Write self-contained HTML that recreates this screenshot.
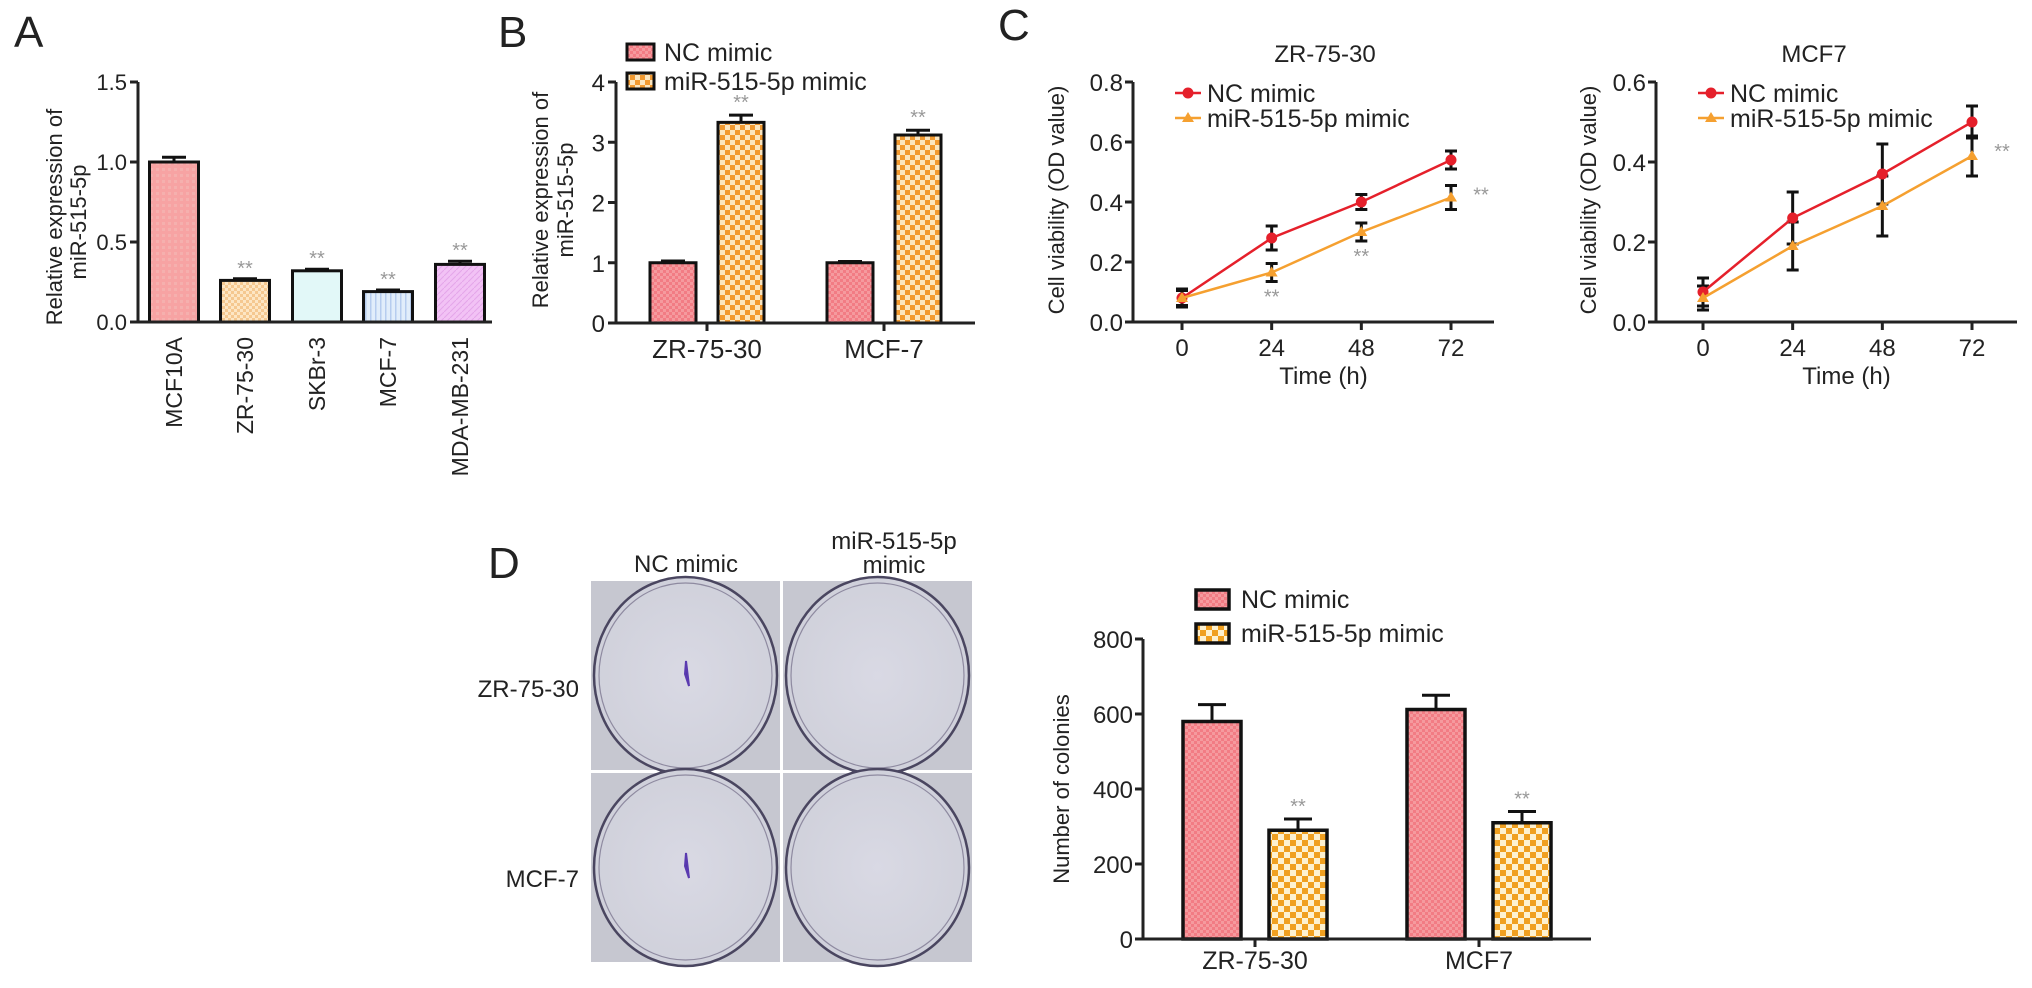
<!DOCTYPE html>
<html><head><meta charset="utf-8">
<style>
html,body{margin:0;padding:0;background:#fff;}
svg{display:block;}
text{font-family:"Liberation Sans",sans-serif;fill:#222;}
.n{font-family:"Liberation Sans Narrow","Liberation Sans",sans-serif;}
</style></head>
<body>
<svg id="fig" width="2032" height="988" viewBox="0 0 2032 988" xmlns="http://www.w3.org/2000/svg">
<defs>
<pattern id="pA0" width="6" height="6" patternUnits="userSpaceOnUse"><rect width="6" height="6" fill="#f7a3a3"/><rect width="3" height="3" fill="#f5b0ae"/></pattern>
<pattern id="pA1" width="6" height="6" patternUnits="userSpaceOnUse"><rect width="6" height="6" fill="#fde6c4"/><rect width="3" height="3" fill="#f5c890"/><rect x="3" y="3" width="3" height="3" fill="#f5c890"/></pattern>
<pattern id="pA2" width="6" height="6" patternUnits="userSpaceOnUse"><rect width="6" height="6" fill="#e2f8f8"/></pattern>
<pattern id="pA3" width="5" height="5" patternUnits="userSpaceOnUse"><rect width="5" height="5" fill="#e2eefb"/><rect width="1.5" height="5" fill="#b7cdef"/></pattern>
<pattern id="pA4" width="6" height="6" patternUnits="userSpaceOnUse"><rect width="6" height="6" fill="#f2c2f5"/><path d="M0 6L6 0" stroke="#e4a6ea" stroke-width="1"/></pattern>
<pattern id="pNC" width="6" height="6" patternUnits="userSpaceOnUse"><rect width="6" height="6" fill="#f27c84"/><rect width="3" height="3" fill="#f59a9e"/><rect x="3" y="3" width="3" height="3" fill="#f59a9e"/></pattern>
<pattern id="pMI" width="10" height="10" patternUnits="userSpaceOnUse"><rect width="10" height="10" fill="#f29a30"/><rect width="5" height="5" fill="#fbe6c0"/><rect x="5" y="5" width="5" height="5" fill="#fbe6c0"/></pattern>
<pattern id="pMD" width="12" height="12" patternUnits="userSpaceOnUse"><rect width="12" height="12" fill="#f0a020"/><rect width="6" height="6" fill="#fdf1d0"/><rect x="6" y="6" width="6" height="6" fill="#fdf1d0"/></pattern>
<radialGradient id="plate" cx="50%" cy="50%" r="55%"><stop offset="0" stop-color="#d9d9e4"/><stop offset="1" stop-color="#cfd0da"/></radialGradient>
</defs>
<g id="root"></g>
</svg>
<script>
// ---------- data ----------
const aCats = ["MCF10A","ZR-75-30","SKBr-3","MCF-7","MDA-MB-231"];
const aVals = [1.0, 0.26, 0.32, 0.19, 0.36];
const aErr = [0.03, 0.01, 0.01, 0.01, 0.02];
const aSig = [false, true, true, true, true];
const aTicks = ["0.0","0.5","1.0","1.5"];

const bCats = ["ZR-75-30","MCF-7"];
const bNC = [1.0, 1.0];
const bNCerr = [0.03, 0.02];
const bMi = [3.33, 3.12];
const bMierr = [0.12, 0.08];
const bTicks = ["0","1","2","3","4"];

const cTimes = [0, 24, 48, 72];
const cTimeTicks = ["0","24","48","72"];
const c1NC = [0.08, 0.28, 0.40, 0.54];
const c1NCerr = [0.025, 0.04, 0.025, 0.03];
const c1Mi = [0.08, 0.165, 0.30, 0.415];
const c1Mierr = [0.03, 0.03, 0.03, 0.04];
const c1Ticks = ["0.0","0.2","0.4","0.6","0.8"];
const c2NC = [0.075, 0.26, 0.37, 0.50];
const c2NCerr = [0.035, 0.065, 0.075, 0.04];
const c2Mi = [0.06, 0.19, 0.29, 0.415];
const c2Mierr = [0.03, 0.06, 0.075, 0.05];
const c2Ticks = ["0.0","0.2","0.4","0.6"];

const dCats = ["ZR-75-30","MCF7"];
const dNC = [580, 612];
const dNCerr = [45, 38];
const dMi = [290, 310];
const dMierr = [30, 30];
const dTicks = ["0","200","400","600","800"];

// ---------- helpers ----------
const NS="http://www.w3.org/2000/svg";
const root=document.getElementById('root');
function el(tag,attrs,parent){const e=document.createElementNS(NS,tag);for(const k in attrs)e.setAttribute(k,attrs[k]);(parent||root).appendChild(e);return e;}
function txt(s,attrs,parent){const e=el('text',attrs,parent);e.textContent=s;return e;}
function lin(x1,y1,x2,y2,w,c,parent){return el('line',{x1,y1,x2,y2,stroke:c||'#222','stroke-width':w||3},parent);}
function errBar(g,x,y0,y1,cap){lin(x,y0,x,y1,3,'#111',g);lin(x-cap,y1,x+cap,y1,3,'#111',g);}
function scale(d0,d1,r0,r1){return v=>r0+(v-d0)/(d1-d0)*(r1-r0);}

// ---------- panel letters ----------
[["A",14,47],["B",498,47],["C",998,40],["D",488,578]].forEach(p=>{
  const t=txt(p[0],{x:p[1],y:p[2],'font-size':44});
  
  
});

// ---------- Panel A ----------
(function(){
  const g=el('g',{});
  
  
  const ax=138, y=scale(0,1.5,322,82);
  const xs=[174,245,317,388,460], bw=49;
  aTicks.forEach((t,i)=>{const v=i*0.5;lin(ax-8,y(v),ax,y(v),3,'#222',g);
    const tt=txt(t,{x:ax-11,y:y(v)+8,'font-size':22,'text-anchor':'end'},g);
    });
  aCats.forEach((c,i)=>{
    const x=xs[i];
    errBar(g,x,y(aVals[i]),y(aVals[i]+aErr[i]),12);
    const r=el('rect',{x:x-bw/2,y:y(aVals[i]),width:bw,height:y(0)-y(aVals[i]),fill:'url(#pA'+i+')',stroke:'#111','stroke-width':3},g);
    
    
    if(aSig[i]){const s=txt('**',{x:x,y:y(aVals[i]+aErr[i])-4,'font-size':20,'text-anchor':'middle',fill:'#999',style:'fill:#999'},g);
      }
    const l=txt(c,{x:0,y:0,'font-size':23,'text-anchor':'end',transform:`translate(${x+8},337) rotate(-90)`},g);
    
  });
  lin(ax,y(1.5),ax,y(0)+1,3,'#222',g);
  lin(ax-1,y(0),492,y(0),3,'#222',g);
  const t1=txt('Relative expression of',{x:0,y:0,'font-size':22,'text-anchor':'middle',transform:'translate(62,217) rotate(-90)'},g);
  
  const t2=txt('miR-515-5p',{x:0,y:0,'font-size':22,'text-anchor':'middle',transform:'translate(86,222) rotate(-90)'},g);
  
})();

// ---------- Panel B ----------
(function(){
  const g=el('g',{});
  
  
  const ax=616, y=scale(0,4,323,82);
  const cx=[707,884], off=34, bw=46;
  bTicks.forEach((t,i)=>{lin(ax-8,y(i),ax,y(i),3,'#222',g);
    const tt=txt(t,{x:ax-11,y:y(i)+9,'font-size':24,'text-anchor':'end',class:'n'},g);
    });
  bCats.forEach((c,i)=>{
    [[bNC,bNCerr,'#pNC',-off,'nc'],[bMi,bMierr,'#pMI',off,'mimic']].forEach(s=>{
      const v=s[0][i], x=cx[i]+s[3];
      errBar(g,x,y(v),y(v+s[1][i]),12);
      const r=el('rect',{x:x-bw/2,y:y(v),width:bw,height:y(0)-y(v),fill:'url('+s[2]+')',stroke:'#111','stroke-width':3},g);
      
      
      if(s[4]==='mimic'){const st=txt('**',{x:x,y:y(v+s[1][i])-6,'font-size':20,'text-anchor':'middle',style:'fill:#999'},g);
        }
    });
    lin(cx[i],y(0),cx[i],y(0)+8,3,'#222',g);
    const l=txt(c,{x:cx[i],y:358,'font-size':26,'text-anchor':'middle',class:'n'},g);
    
  });
  lin(ax,y(4),ax,y(0)+1,3,'#222',g);
  lin(ax-1,y(0),975,y(0),3,'#222',g);
  const t1=txt('Relative expression of',{x:0,y:0,'font-size':22,'text-anchor':'middle',transform:'translate(548,200) rotate(-90)'},g);
  
  const t2=txt('miR-515-5p',{x:0,y:0,'font-size':22,'text-anchor':'middle',transform:'translate(573,200) rotate(-90)'},g);
  
  // legend
  const lg=el('g',{},g);
  
  
  el('rect',{x:627,y:44,width:27,height:16,fill:'url(#pNC)',stroke:'#111','stroke-width':3},lg);
  el('rect',{x:627,y:73,width:27,height:16,fill:'url(#pMI)',stroke:'#111','stroke-width':3},lg);
  const e1=txt('NC mimic',{x:664,y:61,'font-size':25,class:'n'},lg);
  
  const e2=txt('miR-515-5p mimic',{x:664,y:90,'font-size':25,class:'n'},lg);
  
})();

// ---------- Panel C ----------
function lineChart(name,ax,axEnd,xs0,xs72,ymax,ticks,nc,ncErr,mi,miErr,title,titleX,titleYX,sigMarks){
  const g=el('g',{});
  
  
  const y=scale(0,ymax,322,82), x=scale(0,72,xs0,xs72);
  ticks.forEach((t,i)=>{const v=i*0.2;lin(ax-8,y(v),ax,y(v),3,'#222',g);
    const tt=txt(t,{x:ax-10,y:y(v)+9,'font-size':24,'text-anchor':'end',class:'n'},g);
    });
  cTimes.forEach((tv,i)=>{lin(x(tv),322,x(tv),330,3,'#222',g);
    const tt=txt(cTimeTicks[i],{x:x(tv),y:356,'font-size':24,'text-anchor':'middle',class:'n'},g);
    });
  lin(ax,y(ymax),ax,323,3,'#222',g);
  lin(ax-1,322,axEnd,322,3,'#222',g);
  const xt=txt('Time (h)',{x:(ax+axEnd)/2+10,y:384,'font-size':24,'text-anchor':'middle',class:'n'},g);
  
  const yt=txt('Cell viability (OD value)',{x:0,y:0,'font-size':22,'text-anchor':'middle',transform:`translate(${titleYX},200) rotate(-90)`},g);
  
  const tl=txt(title,{x:titleX,y:62,'font-size':24,'text-anchor':'middle',class:'n'},g);
  
  [[nc,ncErr,'#e5202b','nc'],[mi,miErr,'#f5a030','mimic']].forEach(s=>{
    s[0].forEach((v,i)=>{
      lin(x(cTimes[i]),y(v-s[1][i]),x(cTimes[i]),y(v+s[1][i]),3,'#111',g);
      lin(x(cTimes[i])-6,y(v-s[1][i]),x(cTimes[i])+6,y(v-s[1][i]),3,'#111',g);
      lin(x(cTimes[i])-6,y(v+s[1][i]),x(cTimes[i])+6,y(v+s[1][i]),3,'#111',g);
    });
  });
  [[nc,'#e5202b','nc'],[mi,'#f5a030','mimic']].forEach(s=>{
    const p=el('polyline',{points:s[0].map((v,i)=>x(cTimes[i])+','+y(v)).join(' '),fill:'none',stroke:s[1],'stroke-width':2.5},g);
    
    
    s[0].forEach((v,i)=>{
      let m;
      if(s[2]==='nc') m=el('circle',{cx:x(cTimes[i]),cy:y(v),r:5.5,fill:s[1]},g);
      else m=el('path',{d:`M${x(cTimes[i])},${y(v)-6} l6,10 l-12,0 z`,fill:s[1]},g);
      
      
    });
  });
  sigMarks.forEach(sm=>{
    const i=sm[0];
    const st=txt('**',{x:x(cTimes[i])+sm[1],y:y(mi[i]-miErr[i])+sm[2],'font-size':20,'text-anchor':'middle',style:'fill:#999'},g);
    
  });
  // legend
  const lx=ax+42;
  const lg=el('g',{},g);
  
  
  lin(lx,93,lx+26,93,2.5,'#e5202b',lg); el('circle',{cx:lx+13,cy:93,r:5.5,fill:'#e5202b'},lg);
  lin(lx,118,lx+26,118,2.5,'#f5a030',lg); el('path',{d:`M${lx+13},112 l6,10 l-12,0 z`,fill:'#f5a030'},lg);
  const e1=txt('NC mimic',{x:lx+32,y:102,'font-size':25,class:'n'},lg);
  
  const e2=txt('miR-515-5p mimic',{x:lx+32,y:127,'font-size':25,class:'n'},lg);
  
}
lineChart('panel-c-left-line-chart',1133,1494,1182,1451,0.8,c1Ticks,c1NC,c1NCerr,c1Mi,c1Mierr,'ZR-75-30',1325,1064,[[1,0,22],[2,0,22],[3,30,-8]]);
lineChart('panel-c-right-line-chart',1656,2017,1703,1972,0.6,c2Ticks,c2NC,c2NCerr,c2Mi,c2Mierr,'MCF7',1814,1596,[[3,30,-18]]);

// ---------- Panel D plates ----------
(function(){
  const g=el('g',{});
  
  
  el('rect',{x:591,y:581,width:381,height:381,fill:'#fff'},g);
  const cells=[[591,581,189,189],[783,581,189,189],[591,773,189,189],[783,773,189,189]];
  const names=['zr-nc','zr-mimic','mcf7-nc','mcf7-mimic'];
  cells.forEach((c,i)=>{
    const cg=el('g',{},g);
    
    
    el('rect',{x:c[0],y:c[1],width:c[2],height:c[3],fill:'#c6c7d0'},cg);
    el('ellipse',{cx:c[0]+c[2]/2,cy:c[1]+c[3]/2,rx:c[2]/2-3,ry:c[3]/2+4,fill:'url(#plate)',stroke:'#4a4660','stroke-width':2.5},cg);
    el('ellipse',{cx:c[0]+c[2]/2,cy:c[1]+c[3]/2,rx:c[2]/2-8,ry:c[3]/2-2,fill:'none',stroke:'#8e8aa0','stroke-width':1.2},cg);
    if(i%2===0){el('path',{d:`M${c[0]+95},${c[1]+80} l3,25 l-4,-12 z`,fill:'#4a30a0',stroke:'#5a3ab0','stroke-width':2},cg);}
  });
  const h1=txt('NC mimic',{x:686,y:572,'font-size':24,'text-anchor':'middle',class:'n'},g);
  
  const h2=txt('miR-515-5p',{x:894,y:549,'font-size':24,'text-anchor':'middle',class:'n'},g);
  
  const h3=txt('mimic',{x:894,y:573,'font-size':24,'text-anchor':'middle',class:'n'},g);
  
  const r1=txt('ZR-75-30',{x:579,y:697,'font-size':24,'text-anchor':'end',class:'n'},g);
  
  const r2=txt('MCF-7',{x:579,y:887,'font-size':24,'text-anchor':'end',class:'n'},g);
  
})();

// ---------- Panel D bar chart ----------
(function(){
  const g=el('g',{});
  
  
  const ax=1143, y=scale(0,800,939,639);
  const cx=[1255,1479], off=43, bw=58;
  dTicks.forEach((t,i)=>{const v=i*200;lin(ax-8,y(v),ax,y(v),3,'#222',g);
    const tt=txt(t,{x:ax-10,y:y(v)+9,'font-size':24,'text-anchor':'end',class:'n'},g);
    });
  dCats.forEach((c,i)=>{
    [[dNC,dNCerr,'#pNC',-off,'nc'],[dMi,dMierr,'#pMD',off,'mimic']].forEach(s=>{
      const v=s[0][i], x=cx[i]+s[3];
      errBar(g,x,y(v),y(v+s[1][i]),14);
      const r=el('rect',{x:x-bw/2,y:y(v),width:bw,height:y(0)-y(v),fill:'url('+s[2]+')',stroke:'#111','stroke-width':3.5},g);
      
      
      if(s[4]==='mimic'){const st=txt('**',{x:x,y:y(v+s[1][i])-6,'font-size':20,'text-anchor':'middle',style:'fill:#999'},g);
        }
    });
    lin(cx[i],y(0),cx[i],y(0)+8,3,'#222',g);
    const l=txt(c,{x:cx[i],y:969,'font-size':25,'text-anchor':'middle',class:'n'},g);
    
  });
  lin(ax,y(800),ax,y(0)+1,3,'#222',g);
  lin(ax-1,y(0),1591,y(0),3,'#222',g);
  const yt=txt('Number of colonies',{x:0,y:0,'font-size':22,'text-anchor':'middle',transform:'translate(1069,789) rotate(-90)'},g);
  
  const lg=el('g',{},g);
  
  
  el('rect',{x:1196,y:590,width:33,height:19,fill:'url(#pNC)',stroke:'#111','stroke-width':3.5},lg);
  el('rect',{x:1196,y:624,width:33,height:19,fill:'url(#pMD)',stroke:'#111','stroke-width':3.5},lg);
  const e1=txt('NC mimic',{x:1241,y:608,'font-size':25,class:'n'},lg);
  
  const e2=txt('miR-515-5p mimic',{x:1241,y:642,'font-size':25,class:'n'},lg);
  
})();
</script>
</body></html>
